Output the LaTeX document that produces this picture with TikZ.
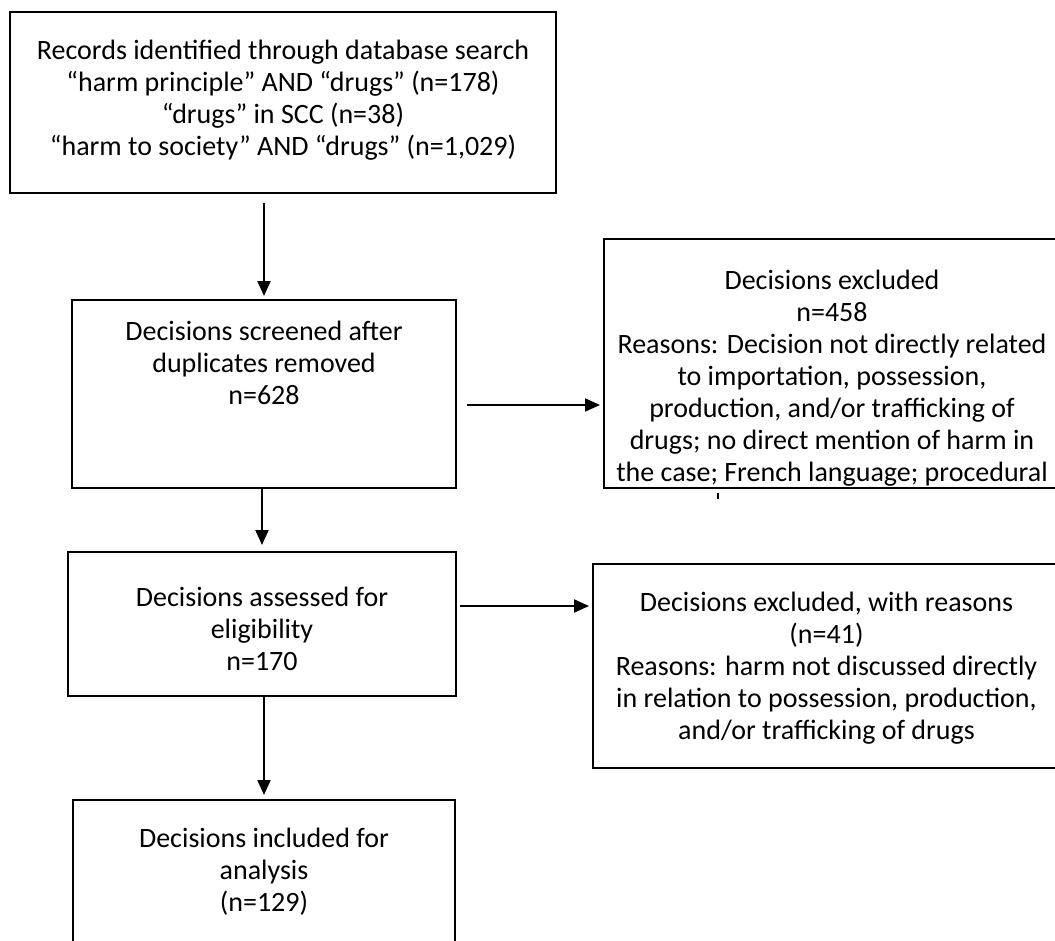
\documentclass[tikz,border=0pt]{standalone}
\usepackage{fontspec}
\setmainfont{Carlito}
\usetikzlibrary{arrows.meta}
\begin{document}
\begin{tikzpicture}[x=1bp,y=-1bp,
  box/.style={draw=black,line width=2bp,rectangle,inner sep=0pt},
  lbl/.style={anchor=north,inner sep=0pt,align=center,font=\fontsize{28bp}{32bp}\selectfont},
  arr/.style={line width=2bp,-{Triangle[length=15bp,width=13bp]}}]
\useasboundingbox (0,0) rectangle (1055,941);
\clip (0,0) rectangle (1055,941);
% boxes
\node[box,minimum width=546bp,minimum height=181bp] (b1) at (283,102.5) {};
\node[box,minimum width=384bp,minimum height=188bp] (b2) at (264,394) {};
\node[box,minimum width=456bp,minimum height=249bp] (b3) at (832,363.5) {};
\node[box,minimum width=388bp,minimum height=144bp] (b4) at (262,624) {};
\node[box,minimum width=467bp,minimum height=204bp] (b5) at (826.5,666) {};
\node[box,minimum width=382bp,minimum height=180bp] (b6) at (264,890) {};
% labels
\node[lbl] (t1) at ([yshift=-29bp]b1.north) {Records identified through database search\\“harm principle” AND “drugs” (n=178)\\“drugs” in SCC (n=38)\\“harm to society” AND “drugs” (n=1,029)};
\node[lbl] (t2) at ([yshift=-22bp]b2.north) {Decisions screened after\\duplicates removed\\n=628};
\node[lbl] (t3) at ([yshift=-32bp]b3.north) {Decisions excluded\\n=458\\Reasons: Decision not directly related\\to importation, possession,\\production, and/or trafficking of\\drugs; no direct mention of harm in\\the case; French language; procedural};
\node[lbl] (t4) at ([yshift=-36bp]b4.north) {Decisions assessed for\\eligibility\\n=170};
\node[lbl] (t5) at ([yshift=-29bp]b5.north) {Decisions excluded, with reasons\\(n=41)\\Reasons: harm not discussed directly\\in relation to possession, production,\\and/or trafficking of drugs};
\node[lbl] (t6) at ([yshift=-29bp]b6.north) {Decisions included for\\analysis\\(n=129)};
% clipped fragment of the next text line in the first exclusion box
\draw[line width=1.3bp] ([xshift=-114bp,yshift=-4bp]b3.south) -- ([xshift=-114bp,yshift=-10bp]b3.south);
% connectors
\draw[arr,shorten <=9bp,shorten >=3bp] (b1.south -| b2.north) -- (b2.north);
\draw[arr,shorten >=6bp] (b2.south -| b4.north) -- (b4.north);
\draw[arr,shorten >=4bp] (b4.south -| b6.north) -- (b6.north);
\draw[arr,shorten <=10bp,shorten >=3bp] ([yshift=-11bp]b2.east) -- ([yshift=-11bp]b2.east -| b3.west);
\draw[arr,shorten <=3bp,shorten >=3bp] ([yshift=18bp]b4.east) -- ([yshift=18bp]b4.east -| b5.west);
\end{tikzpicture}
\end{document}
